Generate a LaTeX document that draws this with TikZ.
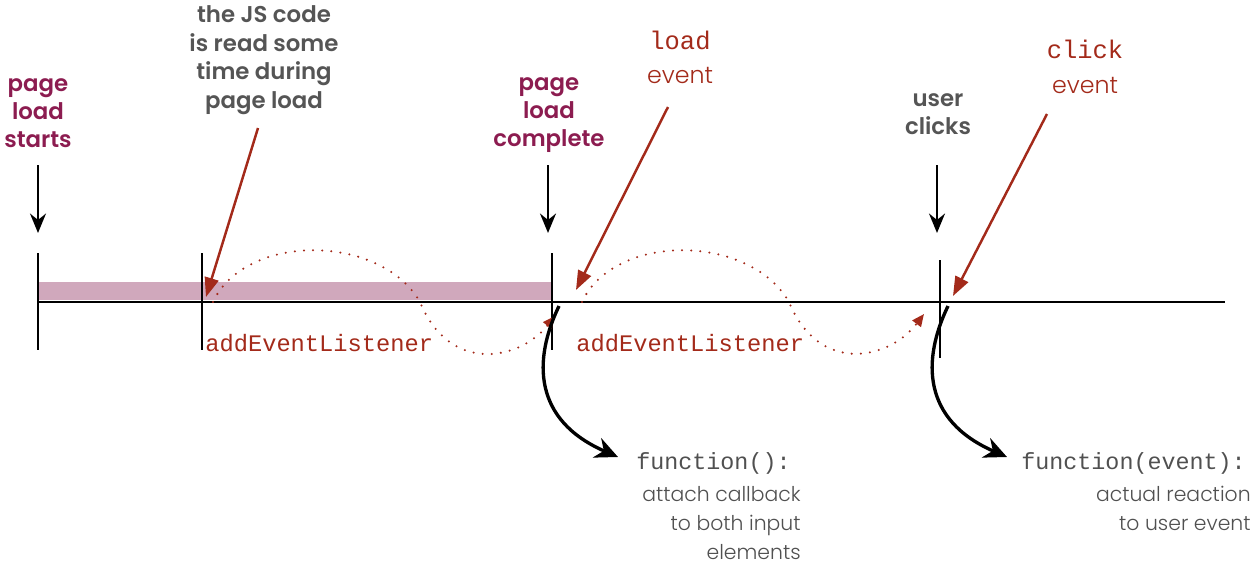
\documentclass[tikz,border=0pt]{standalone}
\usepackage{fontspec}
\setmainfont{Poppins}[BoldFont={Poppins SemiBold}]
\newfontfamily\lightfont{Poppins Light}
\setmonofont{Liberation Mono}
\usetikzlibrary{arrows.meta}
\definecolor{plum}{HTML}{8C1C50}
\definecolor{bar}{HTML}{D0A8BC}
\definecolor{dgray}{HTML}{555555}
\definecolor{lgray}{HTML}{505050}
\definecolor{rust}{HTML}{A32A1A}
\tikzset{
  plab/.style={align=center, text=plum, font=\bfseries\fontsize{13}{16}\selectfont, inner sep=0pt},
  glab/.style={align=center, text=dgray, font=\bfseries\fontsize{13}{16.3}\selectfont, inner sep=0pt},
  rmono/.style={text=rust, font=\ttfamily\fontsize{14.5}{17}\selectfont, inner sep=0pt},
  rsans/.style={text=rust, font=\lightfont\fontsize{13.5}{16}\selectfont, inner sep=0pt},
  ael/.style={text=rust, font=\ttfamily\fontsize{13.5}{16}\selectfont, inner sep=0pt, anchor=west},
  fnl/.style={text=lgray, font=\ttfamily\fontsize{13.3}{16}\selectfont, inner sep=0pt, anchor=west},
  desc/.style={text=lgray, align=right, font=\lightfont\fontsize{11.6}{16.4}\selectfont, inner sep=0pt, anchor=north east},
  tick/.style={line width=1.1pt, black},
  downarrow/.style={line width=1.7pt, -{Stealth[length=11pt,width=9pt]}},
  redarrow/.style={rust, line width=1.4pt, -{Triangle[length=11pt,width=8pt]}},
  dots/.style={rust, line width=1.3pt, dash pattern=on 0pt off 5.2pt, line cap=round, -{Triangle[length=7pt,width=6pt]}},
  cbarrow/.style={line width=1.9pt, -{Stealth[length=13pt,width=12pt]}},
}
\begin{document}
\begin{tikzpicture}[x=0.02cm,y=-0.02cm]
\useasboundingbox (0,0) rectangle (1259,572);
% bar
\fill[bar] (38,282) rectangle (551,300);
% timeline
\coordinate (tl0) at (38,302);
\coordinate (tl1) at (1225,302);
\draw[line width=1.2pt] (tl0) -- (tl1);
% ticks
\foreach \n/\x/\a/\b in {t0/38/253/350, t1/202/253/350, t2/552/253/350, t3/940/260/358}{
  \coordinate (\n a) at (\x,\a);
  \coordinate (\n b) at (\x,\b);
  \draw[tick] (\n a) -- (\n b);
}
% labels
\node[plab] (ps) at (38,113) {page\\load\\starts};
\node[glab] (js) at (264,60) {the JS code\\is read some\\time during\\page load};
\node[plab] (pc) at (549,115) {page\\load\\complete};
\node[glab] (uc) at (938,114) {user\\clicks};
\node[rmono] (lw) at (680,40) {load};
\node[rsans] (le) at (680,75) {event};
\node[rmono] (cw) at (1085,49) {click};
\node[rsans] (ce) at (1085,85) {event};
% down arrows
\coordinate (d0a) at (38,165); \coordinate (d0b) at (38,233);
\coordinate (d1a) at (548,165); \coordinate (d1b) at (548,233);
\coordinate (d2a) at (937,165); \coordinate (d2b) at (937,233);
\draw[downarrow] (d0a) -- (d0b);
\draw[downarrow] (d1a) -- (d1b);
\draw[downarrow] (d2a) -- (d2b);
% red arrows
\coordinate (r0a) at (258,128); \coordinate (r0b) at (206,297);
\coordinate (r1a) at (668,107); \coordinate (r1b) at (576,290);
\coordinate (r2a) at (1047,114); \coordinate (r2b) at (953,296);
\draw[redarrow] (r0a) -- (r0b);
\draw[redarrow] (r1a) -- (r1b);
\draw[redarrow] (r2a) -- (r2b);
% dotted waves
\coordinate (w0a) at (213,302); \coordinate (w0m) at (420,302); \coordinate (w0b) at (555,316);
\coordinate (w1a) at (582,302); \coordinate (w1m) at (789,302); \coordinate (w1b) at (924,314);
\draw[dots] (w0a) .. controls (245,233) and (380,233) .. (w0m) .. controls (450,375) and (520,360) .. (w0b);
\draw[dots] (w1a) .. controls (614,233) and (749,233) .. (w1m) .. controls (819,375) and (889,360) .. (w1b);
% addEventListener labels
\node[ael] (ael0) at (205,343) {addEventListener};
\node[ael] (ael1) at (576,343) {addEventListener};
% callback arrows
\coordinate (c0a) at (559,306); \coordinate (c0b) at (618,457);
\coordinate (c1a) at (948,306); \coordinate (c1b) at (1007,457);
\draw[cbarrow] (c0a) .. controls (533,360) and (533,420) .. (c0b);
\draw[cbarrow] (c1a) .. controls (922,360) and (922,420) .. (c1b);
% function labels
\node[fnl] (f0) at (636,463) {function():};
\node[desc] (f0d) at (801,486) {attach callback\\to both input\\elements};
\node[fnl] (f1) at (1021,463) {function(event):};
\node[desc] (f1d) at (1251,486) {actual reaction\\to user event};
\end{tikzpicture}
\end{document}
